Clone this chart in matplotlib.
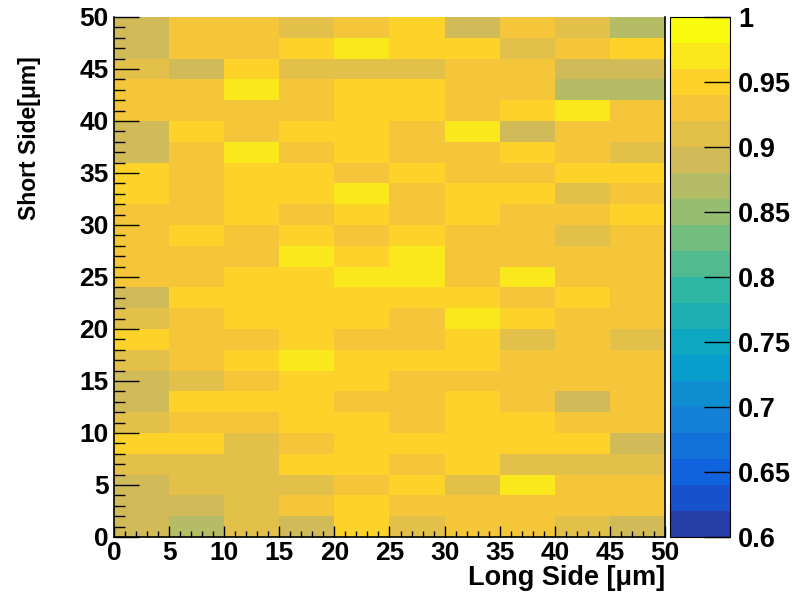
import numpy as np
import matplotlib
matplotlib.use("Agg")
import matplotlib.pyplot as plt
from matplotlib.colors import LinearSegmentedColormap, ListedColormap, BoundaryNorm
from matplotlib.ticker import MultipleLocator, FormatStrFormatter

plt.rcParams["font.family"] = ["Liberation Sans", "DejaVu Sans"]
plt.rcParams["font.weight"] = "bold"

# bin edges [um]
long_edges = np.arange(0, 51, 5)
short_edges = np.arange(0, 51, 2)

# efficiency per cell, first row is the top one (short side 48-50 um),
# columns go along the long side from 0 to 50 um
eff_rows = [
    [0.89, 0.93, 0.93, 0.91, 0.93, 0.95, 0.89, 0.93, 0.91, 0.87],
    [0.89, 0.93, 0.93, 0.95, 0.97, 0.95, 0.95, 0.91, 0.93, 0.95],
    [0.91, 0.89, 0.95, 0.91, 0.91, 0.91, 0.93, 0.93, 0.89, 0.89],
    [0.93, 0.93, 0.97, 0.93, 0.95, 0.95, 0.93, 0.93, 0.87, 0.87],
    [0.93, 0.93, 0.93, 0.93, 0.95, 0.95, 0.93, 0.95, 0.97, 0.93],
    [0.89, 0.95, 0.93, 0.95, 0.95, 0.93, 0.97, 0.89, 0.93, 0.93],
    [0.89, 0.93, 0.97, 0.93, 0.95, 0.93, 0.93, 0.95, 0.93, 0.91],
    [0.95, 0.93, 0.95, 0.95, 0.93, 0.95, 0.93, 0.93, 0.95, 0.95],
    [0.95, 0.93, 0.95, 0.95, 0.97, 0.93, 0.95, 0.95, 0.91, 0.93],
    [0.93, 0.93, 0.95, 0.93, 0.95, 0.93, 0.95, 0.93, 0.93, 0.95],
    [0.93, 0.95, 0.93, 0.95, 0.93, 0.95, 0.93, 0.93, 0.91, 0.93],
    [0.93, 0.93, 0.93, 0.97, 0.95, 0.97, 0.93, 0.93, 0.93, 0.93],
    [0.93, 0.93, 0.95, 0.95, 0.97, 0.97, 0.93, 0.97, 0.93, 0.93],
    [0.89, 0.95, 0.95, 0.95, 0.95, 0.95, 0.95, 0.93, 0.95, 0.93],
    [0.91, 0.93, 0.95, 0.95, 0.95, 0.93, 0.97, 0.95, 0.93, 0.93],
    [0.95, 0.93, 0.93, 0.95, 0.93, 0.93, 0.95, 0.91, 0.93, 0.91],
    [0.91, 0.93, 0.95, 0.97, 0.95, 0.95, 0.95, 0.93, 0.93, 0.93],
    [0.89, 0.91, 0.93, 0.95, 0.95, 0.93, 0.93, 0.93, 0.93, 0.93],
    [0.89, 0.95, 0.95, 0.95, 0.93, 0.93, 0.95, 0.93, 0.89, 0.93],
    [0.91, 0.93, 0.93, 0.95, 0.95, 0.93, 0.95, 0.95, 0.93, 0.93],
    [0.95, 0.95, 0.91, 0.93, 0.95, 0.95, 0.95, 0.95, 0.95, 0.89],
    [0.91, 0.91, 0.91, 0.95, 0.95, 0.93, 0.95, 0.91, 0.91, 0.91],
    [0.89, 0.91, 0.91, 0.91, 0.93, 0.95, 0.91, 0.97, 0.93, 0.93],
    [0.89, 0.89, 0.91, 0.93, 0.95, 0.93, 0.93, 0.93, 0.93, 0.93],
    [0.89, 0.87, 0.91, 0.89, 0.95, 0.91, 0.93, 0.93, 0.91, 0.89],
]
eff = np.flipud(np.array(eff_rows))

z_min, z_max, n_levels = 0.6, 1.0, 20

# ROOT kBird palette, 255 colours, then one colour per contour level
stops = [0.0, 0.125, 0.25, 0.375, 0.5, 0.625, 0.75, 0.875, 1.0]
red = [0.2082, 0.0592, 0.0780, 0.0232, 0.1802, 0.5301, 0.8186, 0.9956, 0.9764]
green = [0.1664, 0.3599, 0.5041, 0.6419, 0.7178, 0.7492, 0.7328, 0.7862, 0.9832]
blue = [0.5293, 0.8684, 0.8385, 0.7914, 0.6425, 0.4662, 0.3499, 0.1968, 0.0539]
bird = LinearSegmentedColormap.from_list(
    "bird", list(zip(stops, zip(red, green, blue))), N=255)
level_colors = [bird(int((i + 0.99) * 255 / n_levels)) for i in range(n_levels)]
cmap = ListedColormap(level_colors)
levels = np.linspace(z_min, z_max, n_levels + 1)
norm = BoundaryNorm(levels, cmap.N)

fig = plt.figure(figsize=(7.95, 5.98), dpi=100)
ax = fig.add_axes([114 / 795, 1 - 537 / 598, 551 / 795, 520 / 598])
cax = fig.add_axes([670 / 795, 1 - 537 / 598, 60 / 795, 520 / 598])

mesh = ax.pcolormesh(long_edges, short_edges, eff, cmap=cmap, norm=norm)
ax.set_xlim(0, 50)
ax.set_ylim(0, 50)

ax.xaxis.set_major_locator(MultipleLocator(5))
ax.xaxis.set_minor_locator(MultipleLocator(1))
ax.yaxis.set_major_locator(MultipleLocator(5))
ax.yaxis.set_minor_locator(MultipleLocator(1))
ax.tick_params(axis="x", which="major", direction="in", length=8, width=1,
               labelsize=19, pad=3, top=False)
ax.tick_params(axis="x", which="minor", direction="in", length=4, width=1, top=False)
ax.tick_params(axis="y", which="major", direction="in", length=18, width=1,
               labelsize=19, pad=4, right=False)
ax.tick_params(axis="y", which="minor", direction="in", length=8, width=1, right=False)
ax.spines["top"].set_visible(False)
for side in ("left", "bottom", "right"):
    ax.spines[side].set_linewidth(1.2)

fig.text(30 / 795, 1 - 56 / 598, "Short Side[μm]", rotation=90,
         ha="center", va="top", fontsize=16.5, fontweight="bold")
fig.text(665 / 795, 1 - 578 / 598, "Long Side [μm]",
         ha="right", va="center", fontsize=19.5, fontweight="bold")

cb = fig.colorbar(mesh, cax=cax, ticks=np.arange(0.6, 1.001, 0.05))
cb.ax.yaxis.set_major_formatter(FormatStrFormatter("%g"))
cb.ax.tick_params(direction="in", length=19, width=1, labelsize=19.5, pad=6)
cb.ax.minorticks_off()
cb.outline.set_linewidth(0.8)

fig.savefig("out.png", dpi=100)
